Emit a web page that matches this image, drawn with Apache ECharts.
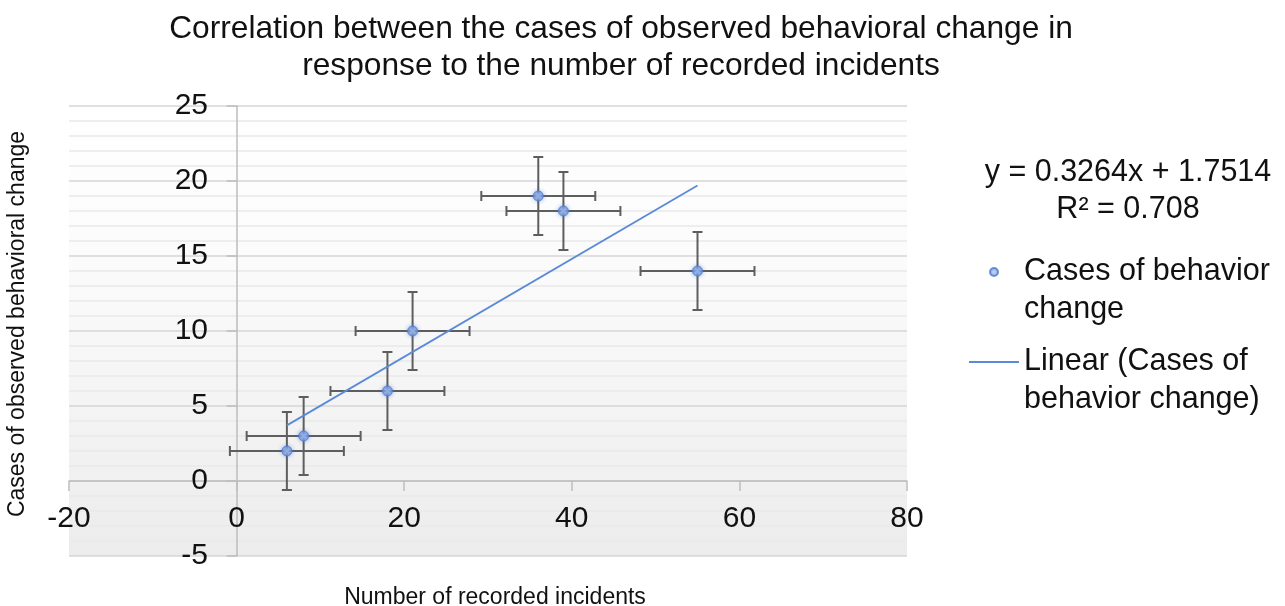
<!DOCTYPE html>
<html><head><meta charset="utf-8">
<script src="https://cdn.jsdelivr.net/npm/echarts@6/dist/echarts.min.js"></script>
<style>html,body{margin:0;padding:0;background:#fff}#chart{width:1285px;height:606px}</style>
</head><body><div id="chart"></div>
<script>
// ---- data ----
const incidents      = [6, 8, 18, 21, 36, 39, 55];
const behaviorCases  = [2, 3, 6, 10, 19, 18, 14];
const incidentErrors = [6.8, 6.8, 6.8, 6.8, 6.8, 6.8, 6.8];
const caseErrors     = [2.6, 2.6, 2.6, 2.6, 2.6, 2.6, 2.6];
const trendSlope = 0.3264;
const trendIntercept = 1.7514;
const rSquared = 0.708;
const xTicks = [-20, 0, 20, 40, 60, 80];
const yTicks = [-5, 0, 5, 10, 15, 20, 25];
const titleLines = ['Correlation between the cases of observed behavioral change in', 'response to the number of recorded incidents'];
const xAxisName = 'Number of recorded incidents';
const yAxisName = 'Cases of observed behavioral change';
const seriesName = 'Cases of behavior change';
const trendName = 'Linear (Cases of behavior change)';
const legendLabels = ['Cases of behavior\nchange', 'Linear (Cases of\nbehavior change)'];

const FONT = '"Liberation Sans", Arial, Helvetica, sans-serif';
const points = incidents.map((x, i) => [x, behaviorCases[i]]);
const errData = incidents.map((x, i) => [x, behaviorCases[i], incidentErrors[i], caseErrors[i]]);
const xMinData = Math.min(...incidents), xMaxData = Math.max(...incidents);
const trendData = [xMinData, xMaxData].map(x => [x, trendSlope * x + trendIntercept]);
const eqText = 'y = ' + trendSlope + 'x + ' + trendIntercept + '\nR² = ' + rSquared;

function renderErrorBar(params, api) {
  const x = api.value(0), y = api.value(1), ex = api.value(2), ey = api.value(3);
  const l = api.coord([x - ex, y]), r = api.coord([x + ex, y]);
  const t = api.coord([x, y + ey]), b = api.coord([x, y - ey]);
  const cap = 5;
  const style = { stroke: '#5e5e5e', lineWidth: 2 };
  const seg = (x1, y1, x2, y2) => ({ type: 'line', shape: { x1, y1, x2, y2 }, style });
  return { type: 'group', children: [
    seg(l[0], l[1], r[0], r[1]),
    seg(l[0], l[1] - cap, l[0], l[1] + cap),
    seg(r[0], r[1] - cap, r[0], r[1] + cap),
    seg(t[0], t[1], b[0], b[1]),
    seg(t[0] - cap, t[1], t[0] + cap, t[1]),
    seg(b[0] - cap, b[1], b[0] + cap, b[1])
  ]};
}

const chart = echarts.init(document.getElementById('chart'), null, { renderer: 'canvas' });
chart.setOption({
  animation: false,
  backgroundColor: '#ffffff',
  textStyle: { fontFamily: FONT },
  title: [
    { text: titleLines.join('\n'), left: 616, top: 6, textAlign: 'center',
      textStyle: { fontFamily: FONT, fontSize: 31.7, fontWeight: 'normal', color: '#111', lineHeight: 37 } },
    { text: eqText, left: 1123, top: 149, textAlign: 'center',
      textStyle: { fontFamily: FONT, fontSize: 30.5, fontWeight: 'normal', color: '#111', lineHeight: 37 } }
  ],
  legend: {
    orient: 'vertical', left: 963, top: 210, itemWidth: 50, itemHeight: 8, itemGap: -24,
    data: [seriesName, { name: trendName, itemStyle: { opacity: 0 } }],
    formatter: name => '\n' + legendLabels[[seriesName, trendName].indexOf(name)],
    textStyle: { fontFamily: FONT, fontSize: 30.5, color: '#111', lineHeight: 38 }
  },
  grid: { left: 69, right: 378, top: 106, bottom: 50, show: true, borderWidth: 0,
    containLabel: false, outerBoundsMode: 'none',
    backgroundColor: { type: 'linear', x: 0, y: 0, x2: 0, y2: 1,
      colorStops: [{ offset: 0, color: '#ffffff' }, { offset: 0.35, color: '#fbfbfb' }, { offset: 1, color: '#ececec' }] } },
  xAxis: {
    type: 'value', min: xTicks[0], max: xTicks[xTicks.length - 1], interval: xTicks[1] - xTicks[0],
    name: xAxisName, nameLocation: 'middle', nameGap: 30,
    nameTextStyle: { fontFamily: FONT, fontSize: 23, color: '#111', padding: [0, 0, 0, 14] },
    axisLine: { onZero: true, lineStyle: { color: '#bdbdbd', width: 1.5 } },
    axisTick: { show: true, length: 10, lineStyle: { color: '#bdbdbd', width: 1.5 } },
    axisLabel: { fontFamily: FONT, fontSize: 30, color: '#111', margin: -52 },
    splitLine: { show: false }
  },
  yAxis: {
    type: 'value', min: yTicks[0], max: yTicks[yTicks.length - 1], interval: yTicks[1] - yTicks[0],
    name: yAxisName, nameLocation: 'middle', nameGap: 40,
    nameTextStyle: { fontFamily: FONT, fontSize: 23, color: '#111', padding: [0, 0, 0, 14] },
    axisLine: { onZero: true, lineStyle: { color: '#bdbdbd', width: 1.5 } },
    axisTick: { show: true, length: 10, lineStyle: { color: '#bdbdbd', width: 1.5 } },
    axisLabel: { fontFamily: FONT, fontSize: 30, color: '#111', margin: -139 },
    splitLine: { show: true, lineStyle: { color: '#d6d6d6', width: 1.5 } },
    minorTick: { show: false, splitNumber: 5 },
    minorSplitLine: { show: true, lineStyle: { color: '#e9e9e9', width: 1.5 } }
  },
  series: [
    { type: 'custom', name: 'errors', renderItem: renderErrorBar, data: errData,
      encode: { x: 0, y: 1 }, z: 2, silent: true },
    { type: 'line', name: trendName, data: trendData, symbol: 'none', z: 3,
      itemStyle: { color: '#5b8ad8' },
      lineStyle: { color: '#5b8ad8', width: 1.8 } },
    { type: 'scatter', name: seriesName, data: points, symbol: 'circle', symbolSize: 10, z: 4,
      itemStyle: {
        color: { type: 'radial', x: 0.5, y: 0.5, r: 0.5,
          colorStops: [{ offset: 0, color: '#b9cdf2' }, { offset: 1, color: '#5f8bdb' }] },
        borderColor: '#4f7cd3', borderWidth: 1,
        shadowBlur: 4, shadowColor: 'rgba(70,110,200,0.55)'
      } }
  ]
});
</script>
</body></html>
